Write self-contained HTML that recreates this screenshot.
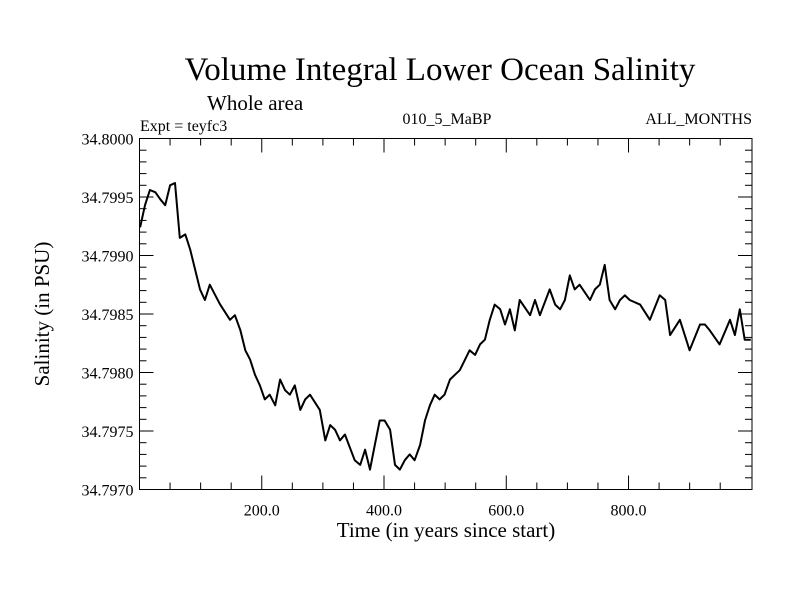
<!DOCTYPE html>
<html><head><meta charset="utf-8"><style>
body{margin:0;background:#fff}
svg text{font-family:"Liberation Serif",serif;fill:#000}
</style></head><body>
<svg id="chart" width="800" height="600">
<text x="440" y="80" font-size="33" text-anchor="middle">Volume Integral Lower Ocean Salinity</text>
<text x="207" y="110" font-size="21">Whole area</text>
<text x="140" y="131" font-size="16">Expt = teyfc3</text>
<text x="447" y="124" font-size="16" text-anchor="middle">010_5_MaBP</text>
<text x="752" y="124" font-size="16" text-anchor="end">ALL_MONTHS</text>
<text x="446" y="537" font-size="21" text-anchor="middle">Time (in years since start)</text>
<text transform="translate(49,314) rotate(-90)" font-size="21" text-anchor="middle">Salinity (in PSU)</text>
<g id="axes"></g>
<path id="line" fill="none" stroke="#000" stroke-width="2" stroke-linejoin="round"></path>
</svg>
<script>
const years=[1,9,17,26,34,42,50,58,66,75,83,91,99,107,115,124,132,148,156,165,173,181,189,197,205,213,222,230,238,246,254,263,271,279,295,304,312,320,328,336,352,361,369,377,385,393,401,410,418,426,434,442,450,459,467,475,483,491,499,508,516,524,540,549,557,565,573,581,590,598,606,614,622,639,647,655,671,680,688,696,704,712,720,737,745,753,761,769,778,786,794,802,819,835,851,860,868,884,900,917,925,933,949,966,974,982,990,1000];
const salinity=[34.79924,34.79943,34.79956,34.79954,34.79948,34.79943,34.79960,34.79962,34.79915,34.79918,34.79905,34.79888,34.79871,34.79862,34.79875,34.79866,34.79858,34.79845,34.79849,34.79836,34.79819,34.79811,34.79798,34.79789,34.79777,34.79781,34.79772,34.79794,34.79785,34.79781,34.79789,34.79768,34.79777,34.79781,34.79768,34.79742,34.79755,34.79751,34.79742,34.79747,34.79725,34.79721,34.79734,34.79717,34.79738,34.79759,34.79759,34.79751,34.79721,34.79717,34.79725,34.79730,34.79725,34.79738,34.79759,34.79772,34.79781,34.79777,34.79781,34.79794,34.79798,34.79802,34.79819,34.79815,34.79824,34.79828,34.79845,34.79858,34.79854,34.79841,34.79854,34.79836,34.79862,34.79849,34.79862,34.79849,34.79871,34.79858,34.79854,34.79862,34.79883,34.79871,34.79875,34.79862,34.79871,34.79875,34.79892,34.79862,34.79854,34.79862,34.79866,34.79862,34.79858,34.79845,34.79866,34.79862,34.79832,34.79845,34.79819,34.79841,34.79841,34.79836,34.79824,34.79845,34.79832,34.79854,34.79828,34.79828];
const xTicks=[200,400,600,800];
const xTickLabels=["200.0","400.0","600.0","800.0"];
const yTicks=[34.7970,34.7975,34.7980,34.7985,34.7990,34.7995,34.8000];
const yTickLabels=["34.7970","34.7975","34.7980","34.7985","34.7990","34.7995","34.8000"];
const X0=139.5,X1=752,Y0=489.5,Y1=138.5;
const xs=v=>X0+(v-0)/(1002)*(X1-X0);
const ys=v=>Y0-(v-34.797)/0.003*(Y0-Y1);
const NS="http://www.w3.org/2000/svg";
const g=document.getElementById('axes');
function mk(t,a){const e=document.createElementNS(NS,t);for(const k in a)e.setAttribute(k,a[k]);g.appendChild(e);return e;}
const fr=mk('rect',{x:X0,y:Y1,width:X1-X0,height:Y0-Y1,fill:'none',stroke:'#000','stroke-width':1});


for(let v=50;v<1000;v+=50){const major=v%200===0;const l=7*(major?2:1);
mk('line',{x1:xs(v),x2:xs(v),y1:Y0,y2:Y0-l,stroke:'#000'});mk('line',{x1:xs(v),x2:xs(v),y1:Y1,y2:Y1+l,stroke:'#000'});}
for(let i=0;i<=30;i++){const v=34.797+i*0.0001;const major=i%5===0;const l=7*(major?2:1);
mk('line',{x1:X0,x2:X0+l,y1:ys(v),y2:ys(v),stroke:'#000'});mk('line',{x1:X1,x2:X1-l,y1:ys(v),y2:ys(v),stroke:'#000'});}
xTicks.forEach((v,i)=>{const t=mk('text',{x:xs(v),y:Y0+26,'font-size':16,'text-anchor':'middle'});t.textContent=xTickLabels[i];

});
yTicks.forEach((v,i)=>{const t=mk('text',{x:X0-6,y:ys(v)+6,'font-size':16,'text-anchor':'end'});t.textContent=yTickLabels[i];

});
document.getElementById('line').setAttribute('d',years.map((y,i)=>(i?'L':'M')+xs(y).toFixed(1)+','+ys(salinity[i]).toFixed(1)).join(''));
</script>
</body></html>
